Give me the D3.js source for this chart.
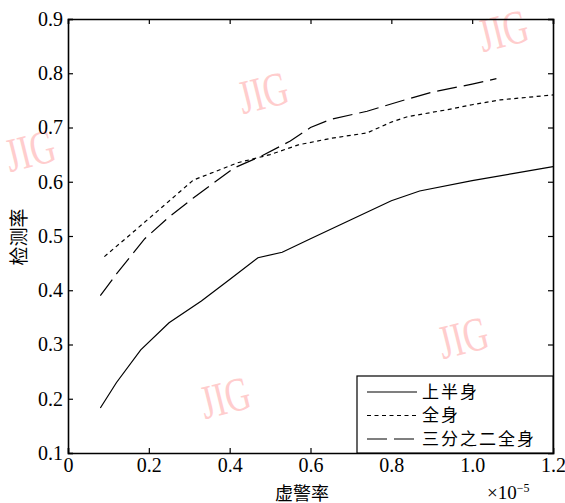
<!DOCTYPE html>
<html>
<head>
<meta charset="utf-8">
<script src="https://cdn.jsdelivr.net/npm/d3@7"></script>
<style>
  body { margin: 0; background: #fff; }
  svg text { font-family: "Liberation Serif", "DejaVu Serif", serif; }
  .cjk { font-family: "Noto Sans CJK SC", sans-serif; }
</style>
</head>
<body>
<div id="chart"></div>
<script>
// data (x in units of 1e-5)
const upperX = [0.08, 0.12, 0.18, 0.25, 0.33, 0.40, 0.47, 0.53, 0.60, 0.70, 0.80, 0.87, 1.00, 1.10, 1.20];
const upperY = [0.183, 0.23, 0.29, 0.34, 0.38, 0.42, 0.46, 0.47, 0.495, 0.53, 0.565, 0.583, 0.602, 0.615, 0.628];

const fullX = [0.09, 0.15, 0.22, 0.31, 0.42, 0.50, 0.57, 0.65, 0.74, 0.80, 0.84, 0.94, 1.00, 1.07, 1.20];
const fullY = [0.462, 0.50, 0.545, 0.603, 0.635, 0.65, 0.668, 0.68, 0.69, 0.71, 0.72, 0.733, 0.742, 0.751, 0.76];

const twoThirdX = [0.08, 0.12, 0.19, 0.25, 0.31, 0.41, 0.48, 0.55, 0.60, 0.65, 0.74, 0.82, 0.90, 1.00, 1.06];
const twoThirdY = [0.39, 0.43, 0.495, 0.535, 0.57, 0.625, 0.648, 0.675, 0.70, 0.715, 0.73, 0.748, 0.765, 0.78, 0.79];

const seriesNames = ["上半身", "全身", "三分之二全身"];
const xTicks = [0, 0.2, 0.4, 0.6, 0.8, 1.0, 1.2];
const yTicks = [0.1, 0.2, 0.3, 0.4, 0.5, 0.6, 0.7, 0.8, 0.9];

const W = 565, H = 503;
const margin = {top: 19, right: 12, bottom: 50, left: 68};
const width = W - margin.left - margin.right,
      height = H - margin.top - margin.bottom;
const serif = '"Liberation Serif", "Times New Roman", serif';

const svg = d3.select("#chart").append("svg")
    .attr("width", W).attr("height", H);

// watermarks
const marks = [[30, 150], [263, 92], [503, 30], [463, 337], [225, 397]];
marks.forEach(([cx, cy]) => {
  svg.append("text")
    .attr("transform", `translate(${cx},${cy}) rotate(-14) scale(0.72,1)`)
    .attr("text-anchor", "middle")
    .attr("dy", "0.35em")
    .style("font-family", serif)
    .style("font-size", "48px")
    .style("fill", "#ffcdcd")
    .text("JIG");
});

const g = svg.append("g")
    .attr("transform", `translate(${margin.left},${margin.top})`);

const x = d3.scaleLinear().domain([0, 1.2]).range([0, width]);
const y = d3.scaleLinear().domain([0.1, 0.9]).range([height, 0]);

// axes, ticks inward
const fmtX = d => d === 0 ? "0" : d3.format(".1f")(d);
g.append("g").attr("transform", `translate(0,${height})`)
  .call(d3.axisBottom(x).tickValues(xTicks).tickFormat(fmtX).tickSize(-5).tickPadding(5));
g.append("g")
  .call(d3.axisTop(x).tickValues(xTicks).tickFormat("").tickSize(-5));
g.append("g")
  .call(d3.axisLeft(y).tickValues(yTicks).tickFormat(d3.format(".1f")).tickSize(-5).tickPadding(5));
g.append("g").attr("transform", `translate(${width},0)`)
  .call(d3.axisRight(y).tickValues(yTicks).tickFormat("").tickSize(-5));

g.selectAll(".domain").attr("stroke", "#000").attr("stroke-width", 1.6);
g.selectAll(".tick line").attr("stroke", "#000").attr("stroke-width", 1.2);
g.selectAll("g").attr("font-family", null).attr("font-size", null);
g.selectAll(".tick text")
  .style("font-size", "20px").style("font-family", serif).attr("fill", "#000");

// lines
const line = d3.line().x(d => x(d[0])).y(d => y(d[1]));
const styles = [
  {xs: upperX, ys: upperY, dash: null},
  {xs: fullX, ys: fullY, dash: "4,3.5"},
  {xs: twoThirdX, ys: twoThirdY, dash: "20,7"}
];
styles.forEach(s => {
  g.append("path")
    .datum(d3.zip(s.xs, s.ys))
    .attr("d", line)
    .attr("fill", "none")
    .attr("stroke", "#000")
    .attr("stroke-width", 1.2)
    .attr("stroke-dasharray", s.dash);
});

// legend
const lx = 357 - margin.left, ly = 376 - margin.top;
const leg = g.append("g").attr("transform", `translate(${lx},${ly})`);
leg.append("rect")
  .attr("width", width - lx).attr("height", height - ly)
  .attr("fill", "#fff").attr("stroke", "#000").attr("stroke-width", 1.2);
seriesNames.forEach((name, i) => {
  const yy = 16 + i * 23.5;
  leg.append("line")
    .attr("x1", 10).attr("x2", 60).attr("y1", yy).attr("y2", yy)
    .attr("stroke", "#000").attr("stroke-width", 1.2)
    .attr("stroke-dasharray", styles[i].dash);
  leg.append("text")
    .attr("class", "cjk")
    .attr("x", 65).attr("y", yy).attr("dy", "0.35em")
    .style("font-size", "17px").style("letter-spacing", "2px")
    .text(name);
});

// axis titles
svg.append("text")
  .attr("class", "cjk")
  .attr("transform", "translate(19,237) rotate(-90)")
  .attr("text-anchor", "middle").attr("dy", "0.35em")
  .style("font-size", "19px")
  .text("检测率");

svg.append("text")
  .attr("class", "cjk")
  .attr("x", 302).attr("y", 500)
  .attr("text-anchor", "middle")
  .style("font-size", "18px")
  .text("虚警率");

const sci = svg.append("text")
  .attr("x", 487).attr("y", 499)
  .style("font-family", serif)
  .style("font-size", "19px");
sci.append("tspan").text("×10");
sci.append("tspan").attr("dy", -7).style("font-size", "12px").text("−5");
</script>
</body>
</html>
